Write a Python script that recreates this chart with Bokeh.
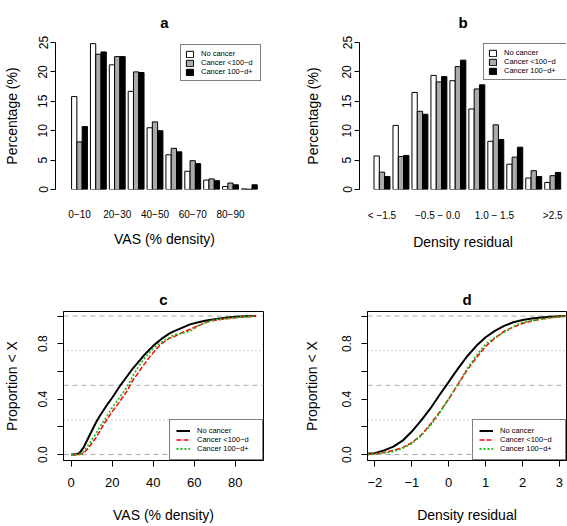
from bokeh.plotting import figure
from bokeh.layouts import column, row
from bokeh.models import (Range1d, FixedTicker, Legend, LegendItem, Span,
                          ColumnDataSource)
from bokeh.transform import dodge
from bokeh.embed import file_html
from bokeh.resources import INLINE

FONT = "Liberation Sans"

# ---------------- data ----------------
series_names = ["No cancer", "Cancer <100\u2212d", "Cancer 100\u2212d+"]
bar_fill = ["white", "#AAAAAA", "black"]
line_colors = ["black", "#FF0000", "#1DC01D"]

vas_bins = ["0\u221210", "10\u221220", "20\u221230", "30\u221240", "40\u221250",
            "50\u221260", "60\u221270", "70\u221280", "80\u221290", "90\u2212100"]
vas_pct_none = [15.8, 24.8, 21.2, 16.7, 10.5, 5.9, 3.1, 1.6, 0.5, 0.1]
vas_pct_lt100 = [8.1, 23.0, 22.6, 20.0, 11.5, 7.0, 4.9, 1.8, 1.1, 0.05]
vas_pct_ge100 = [10.7, 23.4, 22.6, 19.9, 10.0, 6.4, 4.4, 1.5, 0.8, 0.8]
vas_shown = [0, 2, 4, 6, 8]

res_bins = ["< \u22121.5", "\u22121.5 \u2212 \u22121.0", "\u22121.0 \u2212 \u22120.5",
            "\u22120.5 \u2212  0.0", "0.0 \u2212 0.5", "0.5 \u2212 1.0", "1.0 \u2212  1.5",
            "1.5 \u2212 2.0", "2.0 \u2212 2.5", ">2.5"]
res_pct_none = [5.7, 10.9, 16.5, 19.4, 18.5, 13.7, 8.2, 4.3, 1.95, 1.2]
res_pct_lt100 = [2.95, 5.6, 13.3, 18.3, 20.9, 17.1, 11.0, 5.5, 3.2, 2.35]
res_pct_ge100 = [2.2, 5.8, 12.8, 19.2, 22.0, 17.8, 8.5, 7.2, 2.2, 2.9]
res_shown = [0, 3, 6, 9]

pct_ticks = [0, 5, 10, 15, 20, 25]

vas_x = [0, 2, 4, 6, 8, 10, 12, 14, 16, 18, 20, 22, 24, 26, 28, 30, 32, 34, 36, 38,
         40, 42, 44, 46, 48, 50, 54, 58, 62, 66, 70, 75, 80, 85, 90]
vas_cdf_none = [0, 0, 0.01, 0.05, 0.11, 0.17, 0.23, 0.28, 0.325, 0.37, 0.41, 0.455,
                0.50, 0.54, 0.58, 0.62, 0.655, 0.69, 0.725, 0.755, 0.785, 0.81, 0.835,
                0.855, 0.875, 0.89, 0.915, 0.94, 0.955, 0.968, 0.978, 0.988, 0.995,
                0.998, 1.0]
vas_cdf_lt100 = [0, 0, 0, 0.01, 0.04, 0.08, 0.12, 0.17, 0.22, 0.265, 0.31, 0.35, 0.39,
                 0.43, 0.48, 0.535, 0.575, 0.62, 0.66, 0.70, 0.735, 0.77, 0.80, 0.82,
                 0.84, 0.85, 0.88, 0.905, 0.93, 0.955, 0.97, 0.98, 0.988, 0.995, 1.0]
vas_cdf_ge100 = [0, 0, 0, 0.02, 0.06, 0.105, 0.15, 0.2, 0.245, 0.29, 0.34, 0.38, 0.42,
                 0.46, 0.51, 0.565, 0.615, 0.66, 0.70, 0.735, 0.765, 0.79, 0.81, 0.83,
                 0.845, 0.865, 0.875, 0.89, 0.93, 0.955, 0.974, 0.982, 0.989, 0.995, 1.0]
vas_ticks = [0, 20, 40, 60, 80]

res_x = [-2.2, -2.0, -1.75, -1.5, -1.25, -1.0, -0.75, -0.5, -0.25, 0.0, 0.25, 0.5,
         0.75, 1.0, 1.25, 1.5, 1.75, 2.0, 2.25, 2.5, 2.75, 3.0, 3.19]
res_cdf_none = [0.005, 0.01, 0.03, 0.057, 0.1, 0.166, 0.245, 0.331, 0.43, 0.525, 0.62,
                0.71, 0.785, 0.847, 0.893, 0.929, 0.955, 0.972, 0.983, 0.99, 0.995,
                0.998, 1.0]
res_cdf_lt100 = [0.0, 0.005, 0.015, 0.029, 0.05, 0.085, 0.14, 0.218, 0.305, 0.401,
                 0.505, 0.61, 0.70, 0.781, 0.84, 0.891, 0.92, 0.946, 0.965, 0.978,
                 0.988, 0.995, 1.0]
res_cdf_ge100 = [0.0, 0.004, 0.012, 0.022, 0.045, 0.08, 0.135, 0.208, 0.3, 0.4, 0.51,
                 0.62, 0.715, 0.798, 0.845, 0.883, 0.925, 0.955, 0.967, 0.977, 0.988,
                 0.996, 1.0]
res_ticks = [-2, -1, 0, 1, 2, 3]

prop_ticks = [0, 0.2, 0.4, 0.6, 0.8, 1.0]
prop_labels = ["0.0", "", "0.4", "", "0.8", ""]
guide_levels = [0, 0.25, 0.5, 0.75, 1.0]
guide_dash = ["5 4", "1 3", "5 4", "1 3", "5 4"]

BW = 0.28  # bar width in group units


def base_fig(title, width, height, bl, br, bt, bb, xr, yr):
    p = figure(title=title, width=width, height=height,
               min_border_left=bl, min_border_right=br,
               min_border_top=bt, min_border_bottom=bb,
               x_range=Range1d(*xr), y_range=Range1d(*yr),
               toolbar_location=None, tools="", output_backend="svg")
    p.grid.visible = False
    p.outline_line_color = None
    p.title.align = "center"
    p.title.text_font = FONT
    p.title.text_font_size = "15px"
    p.title.text_font_style = "bold"
    p.title.text_color = "black"
    for ax in (p.xaxis[0], p.yaxis[0]):
        ax.axis_label_text_font = FONT
        ax.axis_label_text_font_style = "normal"
        ax.axis_label_text_font_size = "14px"
        ax.axis_label_text_color = "black"
        ax.major_label_text_font = FONT
        ax.major_label_text_font_size = "12px"
        ax.major_label_text_color = "black"
        ax.minor_tick_line_color = None
        ax.major_tick_in = 0
        ax.major_tick_out = 6
        ax.axis_line_color = "black"
        ax.major_tick_line_color = "black"
    return p


def bar_panel(title, bins, shown, pcts, xlabel, width, bl, br, xr,
              leg_loc, leg_lw, title_off, ylab_standoff):
    p = base_fig(title, width, 263, bl, br, 40, 74, xr, (0, 25))
    p.title.standoff = 23
    p.title.offset = title_off
    src = ColumnDataSource(dict(idx=list(range(len(bins))), s0=pcts[0], s1=pcts[1], s2=pcts[2]))
    rends = []
    for k in range(3):
        r = p.vbar(x=dodge("idx", (k - 1) * BW, range=p.x_range), top="s%d" % k,
                   width=BW, bottom=0, source=src, fill_color=bar_fill[k],
                   line_color="black", line_width=1)
        rends.append(r)
    xa = p.xaxis[0]
    xa.ticker = FixedTicker(ticks=shown)
    xa.major_label_overrides = {i: bins[i] for i in shown}
    xa.major_label_text_font_size = "10px"
    xa.axis_line_color = None
    xa.major_tick_line_color = None
    xa.major_tick_out = 0
    xa.major_label_standoff = 20
    xa.axis_label = xlabel
    xa.axis_label_standoff = 10
    ya = p.yaxis[0]
    ya.ticker = FixedTicker(ticks=pct_ticks)
    ya.major_label_orientation = "vertical"
    ya.major_tick_out = 5
    ya.major_label_standoff = 3
    ya.axis_label = "Percentage (%)"
    ya.axis_label_standoff = ylab_standoff
    leg = Legend(items=[LegendItem(label=series_names[k], renderers=[rends[k]]) for k in range(3)],
                 location=leg_loc, margin=0, padding=4, spacing=0,
                 glyph_width=9, glyph_height=8, label_height=9, label_standoff=7,
                 label_width=leg_lw, label_text_font=FONT, label_text_font_size="7.5px",
                 label_text_color="black",
                 border_line_color="black", border_line_width=1,
                 background_fill_color="white", background_fill_alpha=1.0)
    p.add_layout(leg, "center")
    return p


def cdf_panel(title, xs, cdfs, xticks, xlabel, width, bl, br, xr, title_off,
              ylab_standoff, xlabels=None):
    p = base_fig(title, width, 263, bl, br, 48, 66, xr, (-0.043, 1.033))
    p.outline_line_color = "black"
    p.outline_line_width = 1
    p.title.standoff = 8
    p.title.offset = title_off
    for lvl, dash in zip(guide_levels, guide_dash):
        p.add_layout(Span(location=lvl, dimension="width", line_color="#AAAAAA",
                          line_dash=dash, line_width=1, level="underlay"))
    src = ColumnDataSource(dict(x=xs, a=cdfs[0], b=cdfs[1], c=cdfs[2]))
    r0 = p.line("x", "a", source=src, line_color=line_colors[0], line_width=2)
    r1 = p.line("x", "b", source=src, line_color=line_colors[1], line_width=1.5,
                line_dash="5 2")
    r2 = p.line("x", "c", source=src, line_color=line_colors[2], line_width=1.8,
                line_dash="2 2")
    rends = [r0, r1, r2]
    xa = p.xaxis[0]
    xa.ticker = FixedTicker(ticks=xticks)
    if xlabels is not None:
        xa.major_label_overrides = {t: l for t, l in zip(xticks, xlabels)}
    xa.major_label_text_font_size = "13px"
    xa.major_label_standoff = 11
    xa.axis_label = xlabel
    xa.axis_label_standoff = 17
    ya = p.yaxis[0]
    ya.ticker = FixedTicker(ticks=prop_ticks)
    ya.major_label_overrides = {t: l for t, l in zip(prop_ticks, prop_labels)}
    ya.major_label_orientation = "vertical"
    ya.major_label_standoff = 10
    ya.axis_label = "Proportion < X"
    ya.axis_label_standoff = ylab_standoff
    leg = Legend(items=[LegendItem(label=series_names[k], renderers=[rends[k]]) for k in range(3)],
                 location="bottom_right", margin=0, padding=6, spacing=0,
                 glyph_width=14, glyph_height=9, label_height=9, label_standoff=7,
                 label_width=59, label_text_font=FONT, label_text_font_size="7.5px",
                 label_text_color="black",
                 border_line_color="black", border_line_width=1,
                 background_fill_color="white", background_fill_alpha=1.0)
    p.add_layout(leg, "center")
    return p


pa = bar_panel("a", vas_bins, vas_shown, [vas_pct_none, vas_pct_lt100, vas_pct_ge100],
               "VAS (% density)", 283, 55, 10, (-1.272, 10.28), (125, 108), 55, 0, 16)
pb = bar_panel("b", res_bins, res_shown, [res_pct_none, res_pct_lt100, res_pct_ge100],
               "Density residual", 284, 76, 1, (-1.186, 9.727), (124, 109), 59, 5, 19)
pc = cdf_panel("c", vas_x, [vas_cdf_none, vas_cdf_lt100, vas_cdf_ge100], vas_ticks,
               "VAS (% density)", 283, 63, 20, (-3.76, 93.8), 0, 16)
pd = cdf_panel("d", res_x, [res_cdf_none, res_cdf_lt100, res_cdf_ge100], res_ticks,
               "Density residual", 284, 84, 1, (-2.2, 3.19), 1, 20,
               xlabels=["\u22122", "\u22121", "0", "1", "2", "3"])

layout = column(row(pa, pb), row(pc, pd))
open("out.html", "w").write(file_html(layout, INLINE))
